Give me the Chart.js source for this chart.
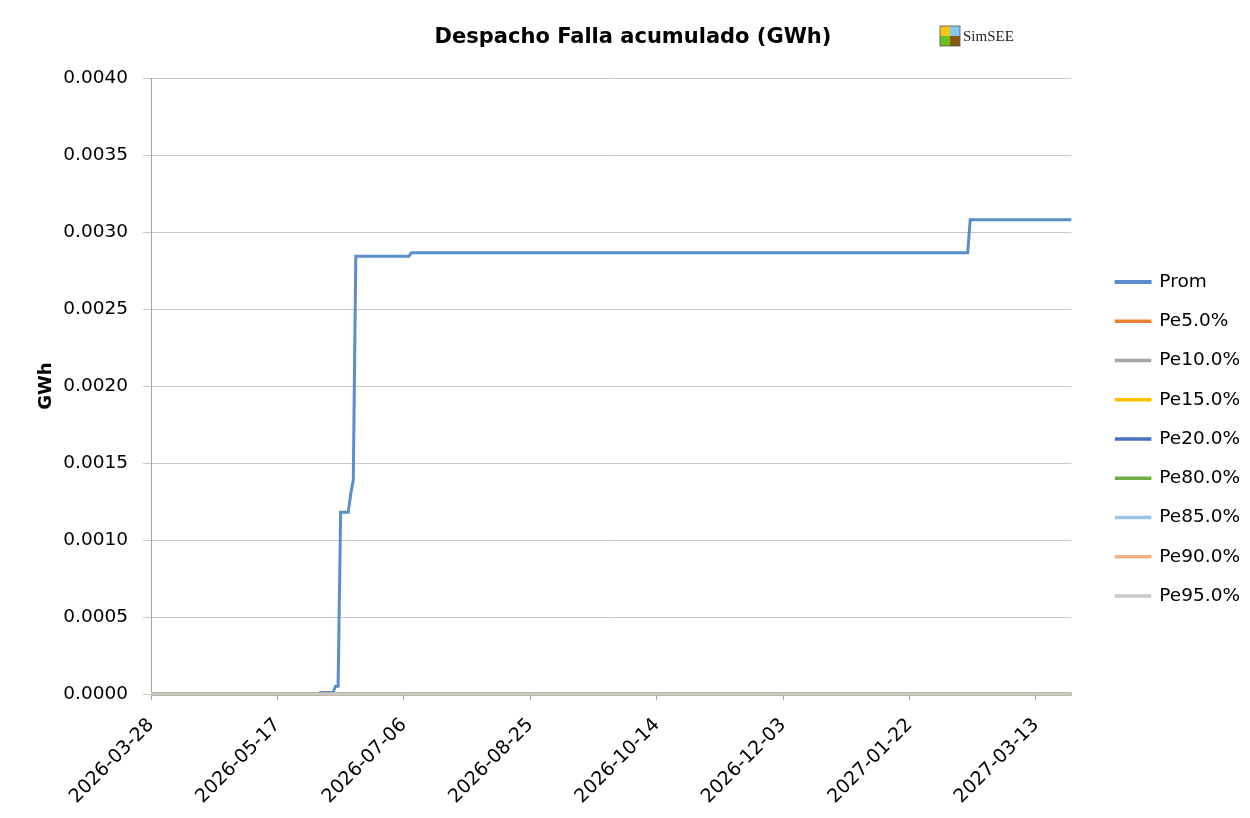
<!DOCTYPE html>
<html>
<head>
<meta charset="utf-8">
<script src="https://cdn.jsdelivr.net/npm/chart.js@4.4.1/dist/chart.umd.min.js"></script>
<style>
  html, body { margin: 0; background: #fff; }
  #wrap { width: 1250px; height: 818px; }
</style>
</head>
<body>
<div id="wrap"><canvas id="grafico"></canvas></div>
<script>
// ===============================
//  DATI
// ===============================
const startDate = "2026-03-28";
const numDays = 365;

const seriesNames = ["Prom", "Pe5.0%", "Pe10.0%", "Pe15.0%", "Pe20.0%", "Pe80.0%", "Pe85.0%", "Pe90.0%", "Pe95.0%"];

// Prom: [fecha desde la que rige, valor GWh] (curva escalonada)
const promSteps = [
  ["2026-03-28", 0],
  ["2026-06-03", 0.00001],
  ["2026-06-09", 0.00005],
  ["2026-06-11", 0.00118],
  ["2026-06-15", 0.00130],
  ["2026-06-16", 0.00139],
  ["2026-06-17", 0.002844],
  ["2026-07-09", 0.002866],
  ["2027-02-15", 0.00308]
];

// todos los percentiles quedan en cero
const pctSteps = [
  ["2026-03-28", 0]
];

const yTicks = [0, 0.0005, 0.001, 0.0015, 0.002, 0.0025, 0.003, 0.0035, 0.004];
const labelEvery = 50;

const seriesColors = ["#5a8fcb", "#ed7d31", "#a5a5a5", "#ffc000", "#4472c4", "#70ad47", "#9dc3e6", "#f4b183", "#c9c9c9"];

// ===============================
//  CATEGORIE (giorni)
// ===============================
const [sy, sm, sd] = startDate.split("-").map(Number);
const labels = [];
for (let i = 0; i < numDays; i++) {
  labels.push(new Date(Date.UTC(sy, sm - 1, sd + i)).toISOString().slice(0, 10));
}

function fromSteps(steps) {
  return labels.map(d => {
    let v = steps[0][1];
    steps.forEach(s => { if (s[0] <= d) v = s[1]; });
    return v;
  });
}

const datasets = seriesNames.map((name, i) => ({
  label: name,
  data: fromSteps(i === 0 ? promSteps : pctSteps),
  borderColor: seriesColors[i],
  backgroundColor: seriesColors[i],
  borderWidth: i === 0 ? 3 : 2.5,
  pointRadius: 0,
  tension: 0,
  clip: false,
  order: seriesNames.length - 1 - i
}));

const FONT = "'DejaVu Sans', sans-serif";

// logo SimSEE
const simseeLogo = {
  id: "simseeLogo",
  afterDraw(chart) {
    const c = chart.ctx;
    const x = 940, y = 26, s = 10;
    c.save();
    c.fillStyle = "#f5c51c"; c.fillRect(x, y, s, s);
    c.fillStyle = "#86c8ef"; c.fillRect(x + s, y, s, s);
    c.fillStyle = "#6cbf1c"; c.fillRect(x, y + s, s, s);
    c.fillStyle = "#8b5a0a"; c.fillRect(x + s, y + s, s, s);
    c.strokeStyle = "#555";
    c.lineWidth = 0.8;
    c.strokeRect(x, y, 2 * s, 2 * s);
    c.fillStyle = "#222";
    c.font = "15px 'Liberation Serif', serif";
    c.textBaseline = "middle";
    c.fillText("SimSEE", x + 2 * s + 3, y + s + 1);
    c.restore();
  }
};

const ctx = document.getElementById("grafico").getContext("2d");

new Chart(ctx, {
  type: "line",
  data: { labels, datasets },
  plugins: [simseeLogo],
  options: {
    responsive: true,
    maintainAspectRatio: false,
    animation: false,
    layout: { padding: { left: 16, right: 0, top: 0, bottom: 0 } },
    plugins: {
      title: {
        display: true,
        text: "Despacho Falla acumulado (GWh)",
        color: "#000",
        font: { family: FONT, size: 21, weight: "bold" },
        padding: { top: 25, bottom: 28 }
      },
      legend: {
        position: "right",
        title: { display: true, text: " ", font: { size: 10 }, padding: { top: 48, bottom: 0 } },
        labels: {
          boxWidth: 34,
          boxHeight: 1,
          padding: 20.75,
          color: "#000",
          font: { family: FONT, size: 18.5 },
          sort: (a, b) => a.datasetIndex - b.datasetIndex
        }
      },
      tooltip: { enabled: false }
    },
    scales: {
      x: {
        ticks: {
          autoSkip: false,
          maxRotation: 45,
          minRotation: 45,
          color: "#000",
          padding: 14,
          font: { family: FONT, size: 19 },
          callback: (v, i) => (i % labelEvery === 0 ? labels[i] : null)
        },
        grid: { drawOnChartArea: false, color: "#a6a6a6", tickLength: 6 },
        border: { color: "#a6a6a6" },
        afterFit: s => { s.height = 124; }
      },
      y: {
        min: yTicks[0],
        max: yTicks[yTicks.length - 1],
        afterBuildTicks: s => { s.ticks = yTicks.map(v => ({ value: v })); },
        ticks: {
          color: "#000",
          padding: 15,
          font: { family: FONT, size: 18.5 },
          callback: v => Number(v).toFixed(4)
        },
        grid: { color: "#c8c8c8", tickLength: 8 },
        border: { color: "#a6a6a6" },
        title: {
          display: true,
          text: "GWh",
          color: "#000",
          font: { family: FONT, size: 18, weight: "bold" },
          padding: { top: 20, bottom: 0 }
        },
        afterFit: s => { s.width = 135; }
      },
      gap: {
        type: "linear",
        position: "right",
        display: true,
        grid: { display: false },
        ticks: { display: false },
        border: { display: false },
        afterFit: s => { s.width = 24; }
      }
    }
  }
});
</script>
</body>
</html>
